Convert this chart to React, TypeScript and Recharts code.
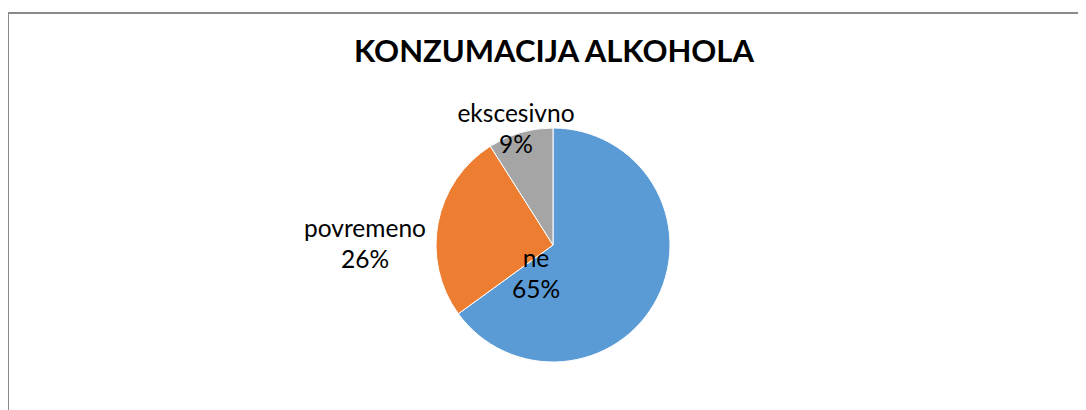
import React from "react";
import { PieChart, Pie, Cell } from "recharts";

const categories = ["ne", "povremeno", "ekscesivno"];
const shares = [65, 26, 9];
const colors = ["#5B9BD5", "#ED7D31", "#A5A5A5"];
const title = "KONZUMACIJA ALKOHOLA";

const data = categories.map((name, i) => ({ name, value: shares[i] }));

const FONT = "Lato, 'Open Sans', sans-serif";

// label block centre offsets relative to pie centre (Excel best-fit style)
const labelOffsets: Record<string, [number, number]> = {
  ne: [-17, 30],
  povremeno: [-188, 0],
  ekscesivno: [-37, -115],
};

const renderLabel = (props: any) => {
  const { cx, cy, name, value } = props;
  const off = labelOffsets[name] || [0, 0];
  const x = cx + off[0];
  const y = cy + off[1];
  return (
    <text
      x={x}
      y={y}
      textAnchor="middle"
      fill="#000"
      style={{ fontFamily: FONT, fontSize: 24.5 }}
    >
      <tspan x={x} dy={-8}>{name}</tspan>
      <tspan x={x} dy={31}>{value}%</tspan>
    </text>
  );
};

export default function App() {
  return (
    <div
      style={{
        position: "relative",
        width: 1086,
        height: 410,
        marginLeft: -8,
        marginTop: -8,
        overflow: "hidden",
        background: "#fff",
      }}
    >
      <div
        style={{
          position: "absolute",
          left: 7,
          top: 12,
          width: 1200,
          height: 500,
          border: "2px solid #8a8a8a",
          boxSizing: "border-box",
        }}
      />
      <div
        style={{
          position: "absolute",
          left: 0,
          width: 1108,
          top: 30,
          textAlign: "center",
          fontFamily: FONT,
          fontWeight: 700,
          fontSize: 31,
          color: "#000",
          lineHeight: "40px",
        }}
      >
        {title}
      </div>
      <div style={{ position: "absolute", left: 0, top: 0 }}>
        <PieChart
          width={1086}
          height={410}
          margin={{ top: 0, right: 0, bottom: 0, left: 0 }}
        >
          <Pie
            data={data}
            dataKey="value"
            nameKey="name"
            cx={553}
            cy={245}
            outerRadius={117}
            startAngle={90}
            endAngle={-270}
            stroke="#ffffff"
            strokeWidth={1}
            label={renderLabel}
            labelLine={false}
            isAnimationActive={false}
          >
            {data.map((d, i) => (
              <Cell key={d.name} fill={colors[i]} />
            ))}
          </Pie>
        </PieChart>
      </div>
    </div>
  );
}
